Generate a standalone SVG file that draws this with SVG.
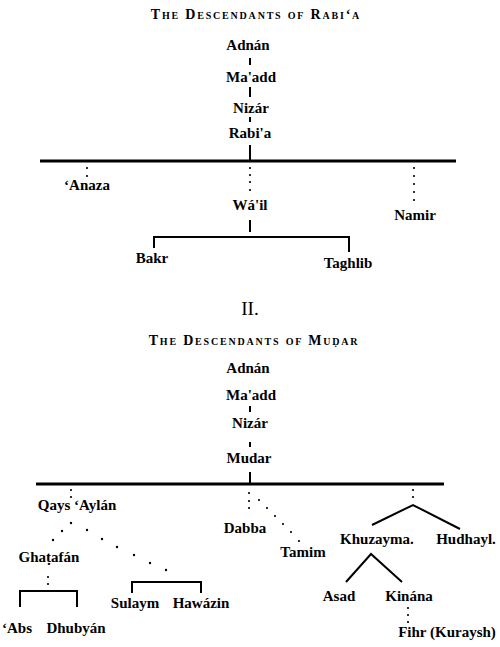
<svg xmlns="http://www.w3.org/2000/svg" width="500" height="647" viewBox="0 0 500 647">
<style>
text{font-family:"Liberation Serif","DejaVu Serif","Times New Roman",serif;fill:#000;text-anchor:middle}
.n{font-size:15px;font-weight:bold}
.t{font-size:14px;font-weight:bold;font-variant:small-caps;letter-spacing:1.8px}
.r{font-size:19px}
.ln{stroke:#000;stroke-width:2;fill:none}
.hb{stroke:#000;stroke-width:3;fill:none}
.d{fill:#000}
</style>
<rect width="500" height="647" fill="#fff"/>
<g id="connectors">
<line class="ln" x1="250" y1="58" x2="250" y2="65"/>
<line class="ln" x1="250" y1="87" x2="250" y2="97"/>
<line class="ln" x1="250" y1="117" x2="250" y2="122"/>
<line class="ln" x1="250" y1="145" x2="250" y2="160"/>
<line class="hb" x1="40" y1="161" x2="456" y2="161"/>
<g class="d">
<circle cx="87" cy="168" r="1.1"/><circle cx="87" cy="176" r="1.1"/>
<circle cx="250" cy="168" r="1.1"/><circle cx="250" cy="175" r="1.1"/><circle cx="250" cy="182" r="1.1"/><circle cx="250" cy="190" r="1.1"/>
<circle cx="414" cy="168" r="1.1"/><circle cx="414" cy="176" r="1.1"/><circle cx="414" cy="184" r="1.1"/><circle cx="414" cy="192" r="1.1"/><circle cx="414" cy="200" r="1.1"/>
</g>
<line class="ln" x1="250" y1="220" x2="250" y2="232"/>
<polyline class="ln" points="154,248 154,237 349,237 349,252"/>
<line class="ln" x1="250" y1="406" x2="250" y2="412"/>
<line class="ln" x1="250" y1="442" x2="250" y2="447"/>
<line class="ln" x1="250" y1="472" x2="250" y2="483"/>
<line class="hb" x1="36" y1="484" x2="444" y2="484"/>
<g class="d">
<circle cx="71" cy="490" r="1.1"/><circle cx="71" cy="497" r="1.1"/>
<circle cx="71" cy="523" r="1.2"/><circle cx="62" cy="531" r="1.2"/><circle cx="53" cy="540" r="1.2"/>
<circle cx="87" cy="530" r="1.2"/><circle cx="102" cy="539" r="1.2"/><circle cx="117" cy="547" r="1.2"/><circle cx="134" cy="555" r="1.2"/><circle cx="150" cy="563" r="1.2"/><circle cx="166" cy="570" r="1.2"/>
<circle cx="48" cy="577" r="1.1"/><circle cx="48" cy="584" r="1.1"/>
<circle cx="249" cy="493" r="1.1"/><circle cx="249" cy="501" r="1.1"/><circle cx="249" cy="508" r="1.1"/>
<circle cx="259" cy="500" r="1.1"/><circle cx="267" cy="508" r="1.1"/><circle cx="275" cy="516" r="1.1"/><circle cx="283" cy="524" r="1.1"/><circle cx="291" cy="532" r="1.1"/><circle cx="299" cy="541" r="1.1"/>
<circle cx="413" cy="490" r="1.1"/><circle cx="413" cy="497" r="1.1"/>
<circle cx="408" cy="608" r="1.1"/><circle cx="408" cy="615" r="1.1"/><circle cx="408" cy="622" r="1.1"/>
</g>
<polyline class="ln" points="20,607 20,591 77,591 77,607"/>
<polyline class="ln" points="132,593 132,582 201,582 201,593"/>
<polyline class="ln" points="372,525 413,505 460,529"/>
<polyline class="ln" points="346,582 371,554 402,582"/>
</g>
<g id="titles">
<text class="t" x="256" y="19">The Descendants of Rabi‘a</text>
<text class="r" x="250" y="315">II.</text>
<text class="t" x="254" y="345">The Descendants of<tspan dx="5">Muḍar</tspan></text>
</g>
<g id="n-adnan1"><text class="n" x="248" y="50">Adnán</text></g>
<g id="n-maadd1"><text class="n" x="251" y="82">Ma'add</text></g>
<g id="n-nizar1"><text class="n" x="251" y="113">Nizár</text></g>
<g id="n-rabia"><text class="n" x="250" y="138">Rabi'a</text></g>
<g id="n-anaza"><text class="n" x="87" y="190">‘Anaza</text></g>
<g id="n-wail"><text class="n" x="250" y="210">Wá'il</text></g>
<g id="n-namir"><text class="n" x="415" y="220">Namir</text></g>
<g id="n-bakr"><text class="n" x="152" y="263">Bakr</text></g>
<g id="n-taghlib"><text class="n" x="348" y="268">Taghlib</text></g>
<g id="n-adnan2"><text class="n" x="248" y="373">Adnán</text></g>
<g id="n-maadd2"><text class="n" x="251" y="400">Ma'add</text></g>
<g id="n-nizar2"><text class="n" x="250" y="428">Nizár</text></g>
<g id="n-mudar"><text class="n" x="249" y="463">Mudar</text></g>
<g id="n-qays"><text class="n" x="77" y="510">Qays ‘Aylán</text></g>
<g id="n-ghatafan"><text class="n" x="49" y="562">Ghaṭafán</text></g>
<g id="n-abs"><text class="n" x="17" y="633">‘Abs</text></g>
<g id="n-dhubyan"><text class="n" x="76" y="633">Dhubyán</text></g>
<g id="n-sulaym"><text class="n" x="135" y="608">Sulaym</text></g>
<g id="n-hawazin"><text class="n" x="201" y="608">Hawázin</text></g>
<g id="n-dabba"><text class="n" x="245" y="533">Dabba</text></g>
<g id="n-tamim"><text class="n" x="303" y="557">Tamim</text></g>
<g id="n-khuzayma"><text class="n" x="377" y="544">Khuzayma.</text></g>
<g id="n-hudhayl"><text class="n" x="466" y="544">Hudhayl.</text></g>
<g id="n-asad"><text class="n" x="339" y="601">Asad</text></g>
<g id="n-kinana"><text class="n" x="409" y="601">Kinána</text></g>
<g id="n-fihr"><text class="n" x="447" y="637">Fihr (Kuraysh)</text></g>
</svg>
